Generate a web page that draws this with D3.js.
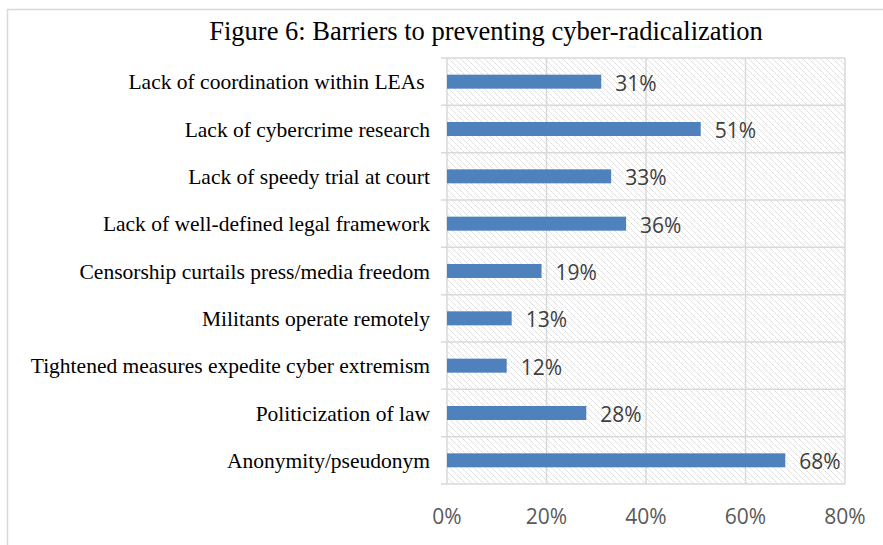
<!DOCTYPE html>
<html>
<head>
<meta charset="utf-8">
<script src="https://cdn.jsdelivr.net/npm/d3@7"></script>
<style>
  html, body { margin: 0; padding: 0; background: #fff; }
  svg { display: block; }
  text { white-space: pre; }
</style>
</head>
<body>
<svg id="chart" width="883" height="545"></svg>
<script>
// Barriers listed top to bottom, with the share of respondents naming each
const categories = [
  "Lack of coordination within LEAs ",
  "Lack of cybercrime research",
  "Lack of speedy trial at court",
  "Lack of well-defined legal framework",
  "Censorship curtails press/media freedom",
  "Militants operate remotely",
  "Tightened measures expedite cyber extremism",
  "Politicization of law",
  "Anonymity/pseudonym"
];
const values = [31, 51, 33, 36, 19, 13, 12, 28, 68];
const xTicks = [0, 20, 40, 60, 80];

const svg = d3.select("#chart");
const W = 883, H = 545;
const plot = { left: 447, right: 845, top: 58, bottom: 484 };

// Outer frame
svg.append("rect")
  .attr("x", 7.5).attr("y", 9.5)
  .attr("width", W + 10).attr("height", H + 10)
  .attr("fill", "#fff").attr("stroke", "#d9d9d9").attr("stroke-width", 1.5);

// Diagonal hatch used as plot background
const defs = svg.append("defs");
const pat = defs.append("pattern")
  .attr("id", "hatch").attr("patternUnits", "userSpaceOnUse")
  .attr("width", 6).attr("height", 6);
pat.append("rect").attr("width", 6).attr("height", 6).attr("fill", "#fff");
pat.append("path")
  .attr("d", "M-1,-1 L7,7 M-1,5 L1,7 M5,-1 L7,1")
  .attr("stroke", "#d0d0d0").attr("stroke-width", 1).attr("stroke-dasharray", "2,1");

const x = d3.scaleLinear().domain([0, 80]).range([plot.left, plot.right]);
const y = d3.scaleBand().domain(categories).range([plot.top, plot.bottom]).paddingInner(0).paddingOuter(0);

svg.append("rect")
  .attr("x", plot.left).attr("y", plot.top)
  .attr("width", plot.right - plot.left).attr("height", plot.bottom - plot.top)
  .attr("fill", "url(#hatch)");

// Vertical gridlines
svg.append("g").selectAll("line")
  .data(xTicks.slice(1))
  .join("line")
  .attr("x1", d => x(d)).attr("x2", d => x(d))
  .attr("y1", plot.top).attr("y2", plot.bottom)
  .attr("stroke", "#d9d9d9").attr("stroke-width", 1.5);

// Horizontal separators between categories (with outward ticks)
const bounds = categories.map(c => y(c)).concat([plot.bottom]);
svg.append("g").selectAll("line")
  .data(bounds)
  .join("line")
  .attr("x1", plot.left - 6).attr("x2", plot.right)
  .attr("y1", d => d).attr("y2", d => d)
  .attr("stroke", "#d9d9d9").attr("stroke-width", 1.5);

// Category axis line
svg.append("line")
  .attr("x1", plot.left).attr("x2", plot.left)
  .attr("y1", plot.top).attr("y2", plot.bottom)
  .attr("stroke", "#d9d9d9").attr("stroke-width", 1.5);

// Bars
const barH = 14;
svg.append("g").selectAll("rect")
  .data(values)
  .join("rect")
  .attr("x", x(0))
  .attr("y", (d, i) => y(categories[i]) + y.bandwidth() / 2 - barH / 2)
  .attr("width", d => x(d) - x(0))
  .attr("height", barH)
  .attr("fill", "#4f81bd");

// Value labels
svg.append("g").selectAll("text")
  .data(values)
  .join("text")
  .attr("x", d => x(d) + 14)
  .attr("y", (d, i) => y(categories[i]) + y.bandwidth() / 2 + 9)
  .attr("font-family", "'Open Sans', sans-serif")
  .attr("font-size", 21)
  .attr("fill", "#404040")
  .text(d => d + "%");

// Category labels
svg.append("g").selectAll("text")
  .data(categories)
  .join("text")
  .attr("x", 430)
  .attr("y", d => y(d) + y.bandwidth() / 2 + 7.5)
  .attr("text-anchor", "end")
  .attr("font-family", "'Liberation Serif', 'Times New Roman', serif")
  .attr("font-size", 21.5)
  .attr("fill", "#000")
  .text(d => d);

// Value axis tick labels
svg.append("g").selectAll("text")
  .data(xTicks)
  .join("text")
  .attr("x", d => x(d))
  .attr("y", 524)
  .attr("text-anchor", "middle")
  .attr("font-family", "'Open Sans', sans-serif")
  .attr("font-size", 21)
  .attr("fill", "#595959")
  .text(d => d + "%");

// Title
svg.append("text")
  .attr("x", 486).attr("y", 40)
  .attr("text-anchor", "middle")
  .attr("font-family", "'Liberation Serif', 'Times New Roman', serif")
  .attr("font-size", 26.5)
  .attr("fill", "#000")
  .text("Figure 6: Barriers to preventing cyber-radicalization");
</script>
</body>
</html>
